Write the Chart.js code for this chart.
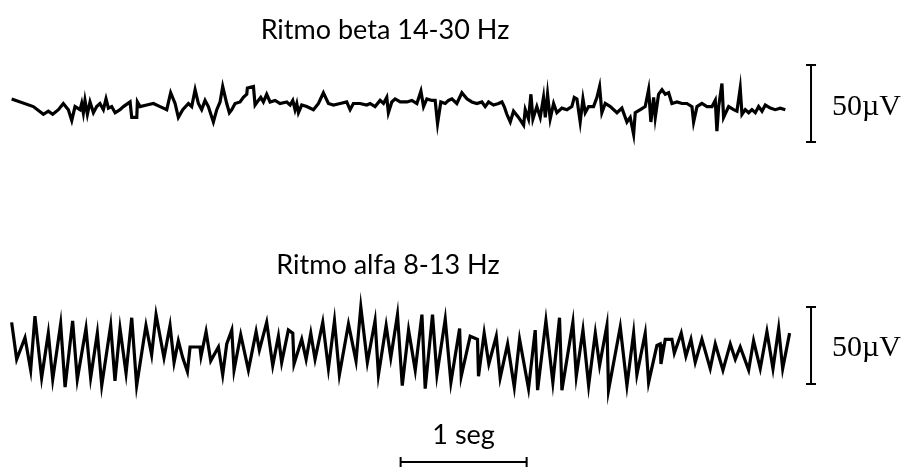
<!DOCTYPE html>
<html>
<head>
<meta charset="utf-8">
<script src="https://cdn.jsdelivr.net/npm/chart.js@4.4.1/dist/chart.umd.min.js"></script>
<style>
  html, body { margin: 0; padding: 0; background: #fff; }
  #wrap { width: 901px; height: 467px; position: relative; }
</style>
</head>
<body>
<div id="wrap"><canvas id="eeg"></canvas></div>
<script>
// tiempos en ms, amplitudes en µV
const betaTitle = 'Ritmo beta 14-30 Hz';
const alphaTitle = 'Ritmo alfa 8-13 Hz';
const ampLabel = '50\u00b5V';
const timeLabel = '1 seg';
const ampBar = 50;     // µV
const timeBar = 1000;  // ms

const betaTimes = [13, 185, 265, 304, 339, 384, 423, 463, 490, 516, 556, 569, 582, 595, 614, 635, 662, 688, 714, 741,
  762, 781, 807, 834, 873, 900, 953, 966, 1006, 1011, 1032, 1085, 1138, 1191, 1244, 1275, 1310, 1336, 1371, 1416,
  1442, 1469, 1495, 1521, 1548, 1574, 1614, 1641, 1667, 1688, 1720, 1741, 1760, 1786, 1826, 1852, 1879, 1884, 1932, 1945,
  1971, 1990, 2011, 2037, 2064, 2104, 2143, 2196, 2223, 2244, 2262, 2276, 2289, 2315, 2355, 2408, 2448, 2487, 2527, 2567,
  2620, 2672, 2699, 2725, 2778, 2831, 2858, 2897, 2937, 2964, 2990, 3003, 3030, 3056, 3097, 3150, 3189, 3229, 3261, 3282,
  3308, 3348, 3374, 3393, 3419, 3454, 3480, 3507, 3546, 3586, 3626, 3665, 3705, 3745, 3771, 3798, 3837, 3877, 3904, 3922,
  3943, 3970, 3996, 4036, 4076, 4089, 4115, 4134, 4150, 4181, 4208, 4234, 4248, 4266, 4287, 4314, 4340, 4380, 4420, 4459,
  4478, 4499, 4525, 4547, 4565, 4592, 4631, 4658, 4679, 4697, 4724, 4764, 4817, 4856, 4896, 4922, 4949, 4962, 5002, 5041,
  5068, 5086, 5108, 5121, 5147, 5174, 5200, 5227, 5253, 5293, 5333, 5372, 5412, 5425, 5452, 5491, 5531, 5571, 5597, 5610,
  5624, 5650, 5663, 5703, 5743, 5769, 5795, 5809, 5835, 5862, 5888, 5915, 5941, 5968, 5994, 6034, 6073, 6113, 6153];
const betaValues = [2, -3, -8, -6, -8, -5, -1, -5, -12, -3, -5, -1, -7, 1, -8, 0, -7, -3, -1, -5,
  2, -4, -3, -7, -5, -3, 0, -10, -10, 0, -3, -2, -1, -3, -5, 6, -1, -10, -5, -1,
  -3, 8, -1, -5, 1, -3, -13, -5, 0, 10, -1, -7, -5, -1, 0, 3, 5, 9, 10, -2,
  1, 3, 0, 5, 0, 1, -1, 0, -2, 1, -5, -1, -7, -2, -3, -5, -1, 6, -1, -2,
  -1, 0, -5, -1, -1, -2, -1, -3, 1, -1, 3, -7, 0, 2, 0, 0, 1, -1, 7, -3,
  2, 1, 1, -14, 0, -1, 1, 2, -1, 6, 2, 0, -1, 0, -3, 0, -2, -1, 0, -3,
  -8, -13, -6, -10, -15, -5, -11, 5, -11, -3, -10, 3, -10, 5, -11, -1, -7, -4, -5, -3,
  3, 2, -13, 2, -7, -3, -3, 3, 10, -7, -1, -3, -7, -4, -13, -10, -21, -7, -5, -3,
  8, -13, 3, -10, 5, 8, 5, 6, -1, 0, -1, -1, -3, -13, -3, -1, -3, -3, 1, -19,
  -3, 12, -10, -3, -5, -6, 9, -8, -5, -7, -5, -7, -3, -6, -2, -4, -5, -4, -5];

const alphaTimes = [13, 53, 119, 164, 198, 251, 304, 339, 402, 437, 497, 534, 603, 640, 693, 728, 799, 833, 873, 921,
  966, 1005, 1079, 1124, 1159, 1222, 1270, 1302, 1336, 1371, 1408, 1429, 1508, 1516, 1556, 1593, 1654, 1688, 1720, 1760,
  1778, 1831, 1892, 1953, 1979, 2037, 2085, 2130, 2156, 2209, 2244, 2254, 2315, 2350, 2387, 2421, 2482, 2527, 2575, 2614,
  2686, 2746, 2784, 2836, 2897, 2924, 2985, 3022, 3075, 3113, 3163, 3216, 3269, 3295, 3353, 3388, 3454, 3499, 3568, 3581,
  3652, 3710, 3718, 3763, 3800, 3859, 3890, 3949, 4002, 4044, 4115, 4168, 4187, 4253, 4308, 4361, 4380, 4467, 4494, 4547,
  4592, 4645, 4679, 4737, 4750, 4843, 4896, 4949, 4975, 5041, 5068, 5134, 5160, 5166, 5200, 5253, 5272, 5327, 5364, 5404,
  5438, 5491, 5557, 5597, 5658, 5716, 5756, 5795, 5862, 5901, 5954, 6007, 6055, 6100, 6132, 6187];
const alphaValues = [16, -8, 6, -15, 20, -20, 9, -21, 15, -26, 17, -21, 12, -20, 9, -25, 14, -22, 12, -17,
  19, -25, 14, -5, 21, -7, 14, -10, 4, -7, -16, 0, 0, -6, 10, -9, 0, -18, 2, 11,
  -15, 8, -15, 10, -2, 16, -12, 7, -10, 11, 9, -11, 5, -8, 9, -8, 16, -14, 17, -18,
  15, -9, 26, -10, 17, -18, 14, -7, 21, -25, 11, -15, 21, -27, 21, -18, 18, -23, 12, -19,
  7, 5, -19, 9, -11, 7, -20, 2, -26, 5, -27, 11, -28, 17, -23, 19, -28, 16, -19, 11,
  -25, 9, -12, 14, -28, 13, -25, 9, -18, 9, -23, 1, 2, -11, 5, 5, -4, 9, -6, 5,
  -10, 5, -14, 2, -15, 2, -8, 0, -15, 4, -14, 10, -14, 12, -14, 9];

const toPoints = (ts, vs) => ts.map((t, i) => ({ x: t, y: vs[i] }));

// barras de calibracion y rotulos
const calibPlugin = {
  id: 'calib',
  afterDatasetsDraw(chart) {
    const ctx = chart.ctx;
    const xs = chart.scales.x, yb = chart.scales.yb, ya = chart.scales.ya;
    ctx.save();
    ctx.strokeStyle = '#000';
    ctx.fillStyle = '#000';
    ctx.lineWidth = 2;

    const barX = xs.getPixelForValue(6357);
    const vbar = (scale, lo) => {
      const top = scale.getPixelForValue(lo + ampBar), bot = scale.getPixelForValue(lo);
      ctx.beginPath();
      ctx.moveTo(barX, top); ctx.lineTo(barX, bot);
      ctx.moveTo(barX - 5, top); ctx.lineTo(barX + 5, top);
      ctx.moveTo(barX - 5, bot); ctx.lineTo(barX + 5, bot);
      ctx.stroke();
      ctx.font = '30px "Liberation Serif"';
      ctx.textAlign = 'left';
      ctx.textBaseline = 'alphabetic';
      ctx.fillText(ampLabel, barX + 21, (top + bot) / 2 + 11);
    };
    vbar(yb, -26);
    vbar(ya, -24);

    // 1 seg
    const x0 = xs.getPixelForValue(3100), x1 = xs.getPixelForValue(3100 + timeBar);
    const ty = 462;
    ctx.beginPath();
    ctx.moveTo(x0, ty); ctx.lineTo(x1, ty);
    ctx.moveTo(x0, ty - 5); ctx.lineTo(x0, ty + 5);
    ctx.moveTo(x1, ty - 5); ctx.lineTo(x1, ty + 5);
    ctx.stroke();

    ctx.font = '27px Lato';
    ctx.textAlign = 'center';
    ctx.fillText(timeLabel, (x0 + x1) / 2, 444);
    ctx.fillText(betaTitle, 385, 39);
    ctx.fillText(alphaTitle, 388, 274);
    ctx.restore();
  }
};

new Chart(document.getElementById('eeg'), {
  type: 'line',
  data: {
    datasets: [
      { label: 'beta', data: toPoints(betaTimes, betaValues), yAxisID: 'yb' },
      { label: 'alfa', data: toPoints(alphaTimes, alphaValues), yAxisID: 'ya' }
    ]
  },
  options: {
    responsive: true,
    maintainAspectRatio: false,
    animation: false,
    layout: { padding: 0 },
    elements: {
      line: { borderColor: '#000', borderWidth: 3.2, tension: 0, borderJoinStyle: 'miter' },
      point: { radius: 0 }
    },
    plugins: { legend: { display: false }, tooltip: { enabled: false } },
    scales: {
      x: { type: 'linear', min: -79.4, max: 7071, display: false },
      yb: { type: 'linear', min: -237, max: 66.2, display: false },
      ya: { type: 'linear', min: -77.9, max: 225.3, display: false }
    }
  },
  plugins: [calibPlugin]
});
</script>
</body>
</html>
